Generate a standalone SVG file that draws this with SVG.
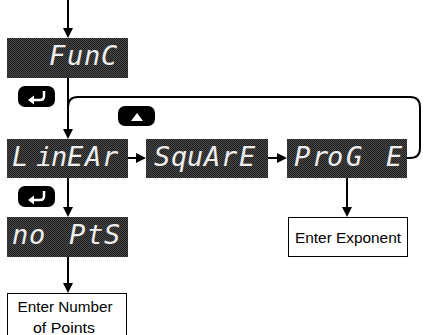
<svg xmlns="http://www.w3.org/2000/svg" width="426" height="335" viewBox="0 0 426 335">
<style>
.lcd{fill:url(#dots);}
.seg{font-family:"DejaVu Sans Mono",monospace;font-style:italic;font-size:27px;fill:#eeeeee;}
.wire{fill:none;stroke:#000;stroke-width:2;}
.box{fill:#fff;stroke:#000;stroke-width:1;}
.lbl{font-family:"Liberation Sans",Arial,sans-serif;font-size:15px;fill:#000;text-anchor:middle;}
.btn{fill:#000;}
.ico{fill:none;stroke:#fff;stroke-width:2.5;}
</style>
<defs>
<pattern id="dots" width="2" height="2" patternUnits="userSpaceOnUse">
<rect width="2" height="2" fill="#4a4a4a"/>
<rect width="1" height="1" fill="#1e1e1e"/>
<rect x="1" y="1" width="1" height="1" fill="#1e1e1e"/>
</pattern>
<marker id="arr" viewBox="0 0 10 10" refX="7" refY="5" markerWidth="10" markerHeight="10" markerUnits="userSpaceOnUse" orient="auto">
<path d="M0,0 L10,5 L0,10 Z" fill="#000"/>
</marker>
</defs>

<g id="connectors">
<path class="wire" d="M68,0 V35" marker-end="url(#arr)"/>
<path class="wire" d="M68,78 V136" marker-end="url(#arr)"/>
<path class="wire" d="M68,107 Q68,97 78,97 H410 Q420,97 420,107 V148 Q420,158 410,158 H407"/>
<path class="wire" d="M128,158 H143" marker-end="url(#arr)"/>
<path class="wire" d="M268,158 H284" marker-end="url(#arr)"/>
<path class="wire" d="M68,178 V214" marker-end="url(#arr)"/>
<path class="wire" d="M347,178 V214" marker-end="url(#arr)"/>
<path class="wire" d="M68,257 V290" marker-end="url(#arr)"/>
</g>

<g id="func">
<rect class="lcd" x="7" y="38" width="121" height="40"/>
<text class="seg" x="49 67 84 101" y="65">FunC</text>
</g>

<g id="enter-btn-1">
<rect class="btn" x="18" y="86" width="37" height="21" rx="7"/>
<path class="ico" d="M44,91 V96 Q44,100 40,100 H32"/>
<path d="M28,100 L34,95.5 L34,104.5 Z" fill="#fff"/>
</g>

<g id="up-btn">
<rect class="btn" x="118" y="106" width="37" height="20" rx="7"/>
<path d="M131,121 L143,121 L137,113 Z" fill="#fff"/>
</g>

<g id="linear">
<rect class="lcd" x="7" y="139" width="121" height="39"/>
<text class="seg" x="12 36 51 67 85 102" y="166">LinEAr</text>
</g>

<g id="square">
<rect class="lcd" x="146" y="139" width="122" height="39"/>
<text class="seg" x="154 171 187 204 221 239" y="166">SquArE</text>
</g>

<g id="prog">
<rect class="lcd" x="287" y="139" width="120" height="39"/>
<text class="seg" x="294 312 327 346 386" y="166">ProGE</text>
</g>

<g id="enter-btn-2">
<rect class="btn" x="18" y="186" width="37" height="21" rx="7"/>
<path class="ico" d="M44,191 V196 Q44,200 40,200 H32"/>
<path d="M28,200 L34,195.5 L34,204.5 Z" fill="#fff"/>
</g>

<g id="nopts">
<rect class="lcd" x="7" y="217" width="121" height="40"/>
<text class="seg" x="12 29 69 87 104" y="244">noPtS</text>
</g>

<g id="exponent">
<rect class="box" x="288.5" y="217.5" width="119" height="39"/>
<text class="lbl" x="348" y="243" textLength="106" lengthAdjust="spacingAndGlyphs">Enter Exponent</text>
</g>

<g id="points">
<rect class="box" x="7.5" y="293.5" width="119" height="45"/>
<text class="lbl" x="65" y="312" textLength="95" lengthAdjust="spacingAndGlyphs">Enter Number</text>
<text class="lbl" x="64" y="333" textLength="62" lengthAdjust="spacingAndGlyphs">of Points</text>
</g>
</svg>
